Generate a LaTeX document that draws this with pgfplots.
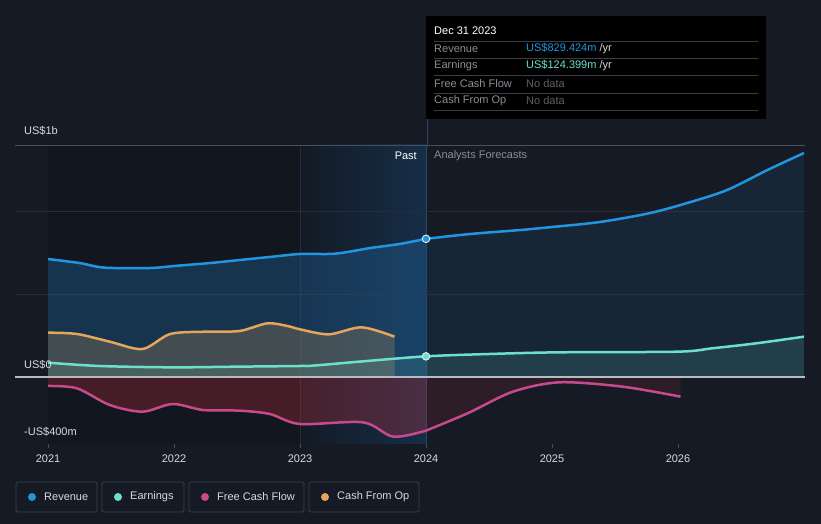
\documentclass[border=0pt]{standalone}
\usepackage{pgfplots}
\pgfplotsset{compat=1.18}
\usepackage{pgfplotstable}
\usepackage{fontspec}
\setmainfont{Liberation Sans}

\definecolor{bg}{HTML}{151A24}
\definecolor{pastbg}{HTML}{12161E}
\definecolor{bandl}{HTML}{131A25}
\definecolor{bandr}{HTML}{162E48}
\definecolor{vline}{HTML}{2A4863}
\definecolor{vline23}{HTML}{202F40}
\definecolor{gridlo}{HTML}{272D37}
\definecolor{gridhi}{HTML}{4A4F58}
\definecolor{zeroc}{HTML}{B8BCC2}
\definecolor{revc}{HTML}{2394DF}
\definecolor{revfillp}{HTML}{1E5A8C}
\definecolor{revfillf}{HTML}{1E4A70}
\definecolor{earnc}{HTML}{6DE0CB}
\definecolor{fcfc}{HTML}{C84A8C}
\definecolor{fcffill}{HTML}{C0303F}
\definecolor{cfoc}{HTML}{E3A65A}
\definecolor{txt}{HTML}{D8DADD}
\definecolor{dimtxt}{HTML}{8A8F96}
\definecolor{nodata}{HTML}{5C6066}
\definecolor{sepc}{HTML}{3A3D42}
\definecolor{legbox}{HTML}{3A404B}
\definecolor{markring}{HTML}{E6EEF5}

% values in US$ m, x in years
\pgfplotstableread{
x y
2021.00 708
2021.25 684
2021.45 656
2021.81 654
2022.00 666
2022.29 684
2022.52 702
2022.76 720
2023.00 738
2023.28 740
2023.56 774
2023.79 798
2024.00 829
}\revpast
\pgfplotstableread{
x y
2024.00 829
2024.35 858
2024.75 882
2025.00 900
2025.38 930
2025.78 984
2026.10 1050
2026.39 1122
2026.71 1242
2027.00 1344
}\revfc
\pgfplotstableread{
x y
2021.00 86
2021.41 66
2021.99 58
2022.50 62
2023.00 66
2023.10 68
2023.50 94
2024.00 124
2024.50 138
2025.05 148
2026.00 152
2026.27 172
2026.62 202
2027.00 242
}\earn
\pgfplotstableread{
x y
2021.00 -54
2021.23 -68
2021.49 -168
2021.75 -208
2021.99 -162
2022.23 -198
2022.52 -202
2022.76 -222
2023.00 -282
2023.50 -272
2023.74 -358
2024.00 -322
}\fcfpast
\pgfplotstableread{
x y
2024.00 -322
2024.33 -218
2024.69 -88
2025.06 -32
2025.56 -58
2026.02 -118
}\fcffc
\pgfplotstableread{
x y
2021.00 266
2021.23 258
2021.49 212
2021.75 168
2021.97 258
2022.25 272
2022.52 276
2022.74 322
2022.90 306
2023.00 286
2023.23 256
2023.49 298
2023.75 242
}\cfo

\begin{document}
\begin{tikzpicture}
\fill[bg] (0,0) rectangle (821pt,524pt);
\useasboundingbox (0,0) rectangle (821pt,524pt);
\begin{axis}[
    at={(15pt,80pt)}, anchor=south west,
    scale only axis, width=790pt, height=299pt,
    xmin=2020.738, xmax=2027.008,
    ymin=-402, ymax=1392,
    axis line style={draw=none},
    xtick={2021,2022,2023,2024,2025,2026},
    xticklabels={2021,2022,2023,2024,2025,2026},
    xtick pos=bottom, ytick=\empty,
    tick align=outside, major tick length=4pt,
    tick style={draw=gridhi, line width=0.8pt},
    xticklabel style={font=\fontsize{11}{13}\selectfont, text=txt, yshift=-3pt},
    /pgf/number format/assume math mode=true,
    smooth, tension=0.5,
]
% past region and last-year band
\fill[pastbg] (axis cs:2021.0,-402) rectangle (axis cs:2023.0,1392);
\fill[left color=bandl, right color=bandr] (axis cs:2023.0,-402) rectangle (axis cs:2024.0,1392);
\draw[vline23, line width=0.6pt] (axis cs:2023.0,-402) -- (axis cs:2023.0,1392);
\draw[vline, line width=0.8pt] (axis cs:2024.0,-402) -- (axis cs:2024.0,1392);
% grid
\draw[gridlo, line width=0.8pt] (axis cs:2020.738,996) -- (axis cs:2027.008,996);
\draw[gridlo, line width=0.8pt] (axis cs:2020.738,498) -- (axis cs:2027.008,498);
\draw[gridhi, line width=0.9pt] (axis cs:2020.738,1392) -- (axis cs:2027.008,1392);
\draw[gridhi, line width=0.9pt] (axis cs:2020.738,-402) -- (axis cs:2027.008,-402);

% area fills
\addplot[draw=none, fill=revfillp, fill opacity=0.45] table {\revpast} \closedcycle;
\addplot[draw=none, fill=revfillf, fill opacity=0.25] table {\revfc} \closedcycle;
\addplot[draw=none, fill=cfoc, fill opacity=0.22] table {\cfo} \closedcycle;
\addplot[draw=none, fill=earnc, fill opacity=0.13] table {\earn} \closedcycle;
\addplot[draw=none, fill=fcffill, fill opacity=0.3] table {\fcfpast} \closedcycle;
\addplot[draw=none, fill=fcffill, fill opacity=0.14] table {\fcffc} \closedcycle;

\draw[zeroc, line width=1.4pt] (axis cs:2020.738,0) -- (axis cs:2027.008,0);

% lines
\addplot[revc, line width=2.5pt] table {\revpast};
\addplot[revc, line width=2.5pt] table {\revfc};
\addplot[cfoc, line width=2.5pt] table {\cfo};
\addplot[earnc, line width=2.5pt] table {\earn};
\addplot[fcfc, line width=2.5pt] table {\fcfpast};
\addplot[fcfc, line width=2.5pt] table {\fcffc};

% current points
\addplot[only marks, mark=*, mark size=3.8pt, mark options={fill=revc, draw=markring, line width=0.9pt}] coordinates {(2024.0,829)};
\addplot[only marks, mark=*, mark size=3.8pt, mark options={fill=earnc, draw=markring, line width=0.9pt}] coordinates {(2024.0,124)};
\end{axis}

\begin{scope}[x=1pt,y=1pt, font=\fontsize{11}{13}\selectfont]
% vertical marker above the plot
\draw[vline, line width=0.8pt] (427,379) -- (427,508);
% y labels
\node[anchor=west, text=txt, inner sep=0] at (24,393) {US\$1b};
\node[anchor=west, text=txt, inner sep=0] at (24,159) {US\$0};
\node[anchor=west, text=txt, inner sep=0] at (24,92) {-US\$400m};
% past / forecast
\node[anchor=east, text=white, inner sep=0] at (417,368) {Past};
\node[anchor=west, text=dimtxt, inner sep=0] at (434,368) {Analysts Forecasts};
% tooltip
\fill[black] (426,508) rectangle (766,405);
\foreach \yy in {483,466,449,431,414} \draw[sepc, line width=0.7pt] (434,\yy) -- (758,\yy);
\node[anchor=west, text=white, inner sep=0] at (434,493) {Dec 31 2023};
\node[anchor=west, text=dimtxt, inner sep=0] at (434,475) {Revenue};
\node[anchor=west, text=dimtxt, inner sep=0] at (434,458) {Earnings};
\node[anchor=west, text=dimtxt, inner sep=0] at (434,440) {Free Cash Flow};
\node[anchor=west, text=dimtxt, inner sep=0] at (434,423) {Cash From Op};
\node[anchor=west, inner sep=0] at (526,475) {\textcolor{revc}{US\$829.424m} \textcolor{txt}{/yr}};
\node[anchor=west, inner sep=0] at (526,458) {\textcolor{earnc}{US\$124.399m} \textcolor{txt}{/yr}};
\node[anchor=west, text=nodata, inner sep=0] at (526,440) {No data};
\node[anchor=west, text=nodata, inner sep=0] at (526,423) {No data};
% legend
\foreach \xa/\xb/\cc/\lab in {16/97/revc/Revenue, 102/184/earnc/Earnings, 189/304/fcfc/Free Cash Flow, 309/419/cfoc/Cash From Op}{
  \draw[legbox, line width=0.8pt, rounded corners=1.5pt] (\xa,42) rectangle (\xb,12);
  \fill[\cc] (\xa+16,27) circle (4pt);
  \node[anchor=west, text=txt, inner sep=0, font=\fontsize{11}{13}\selectfont] at (\xa+28,27) {\lab};
}
\end{scope}
\end{tikzpicture}
\end{document}
